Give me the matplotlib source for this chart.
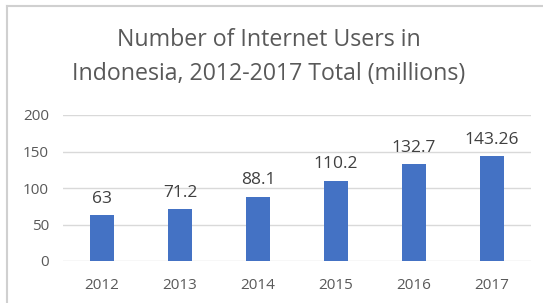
import matplotlib
matplotlib.use("Agg")
import matplotlib.pyplot as plt
from matplotlib.lines import Line2D

years = ["2012", "2013", "2014", "2015", "2016", "2017"]
users = [63, 71.2, 88.1, 110.2, 132.7, 143.26]
value_labels = ["63", "71.2", "88.1", "110.2", "132.7", "143.26"]

plt.rcParams["font.family"] = ["Open Sans", "DejaVu Sans"]

fig = plt.figure(figsize=(5.43, 3.03), dpi=100)
fig.patch.set_facecolor("white")

# Outer chart border (left and top visible)
fig.add_artist(Line2D([7 / 543, 7 / 543], [0, 1 - 6 / 303], color="#d0d0d0", lw=1.5))
fig.add_artist(Line2D([7 / 543, 1], [1 - 6 / 303, 1 - 6 / 303], color="#d0d0d0", lw=1.5))

ax = fig.add_axes([63 / 543, 1 - 261 / 303, 468 / 543, 146 / 303])
x = range(len(years))
ax.bar(x, users, width=0.3, color="#4472c4", zorder=3)

for i, (v, lab) in enumerate(zip(users, value_labels)):
    ax.annotate(lab, (i, v), xytext=(0, 6), textcoords="offset points",
                ha="center", va="bottom", fontsize=12.5, color="#404040")

ax.set_xlim(-0.5, len(years) - 0.5)
ax.set_ylim(0, 200)
ax.set_yticks([0, 50, 100, 150, 200])
ax.set_xticks(list(x))
ax.set_xticklabels(years)
ax.grid(axis="y", color="#d9d9d9", lw=1, zorder=0)
ax.tick_params(length=0, labelsize=11, labelcolor="#595959")
ax.tick_params(axis="y", pad=10)
ax.tick_params(axis="x", pad=12)
for s in ax.spines.values():
    s.set_visible(False)

fig.text(0.495, 1 - 40 / 303, "Number of Internet Users in", ha="center", va="center",
         fontsize=16.7, color="#595959")
fig.text(0.495, 1 - 74 / 303, "Indonesia, 2012-2017 Total (millions)", ha="center", va="center",
         fontsize=16.7, color="#595959")

fig.savefig("out.png", dpi=100)
